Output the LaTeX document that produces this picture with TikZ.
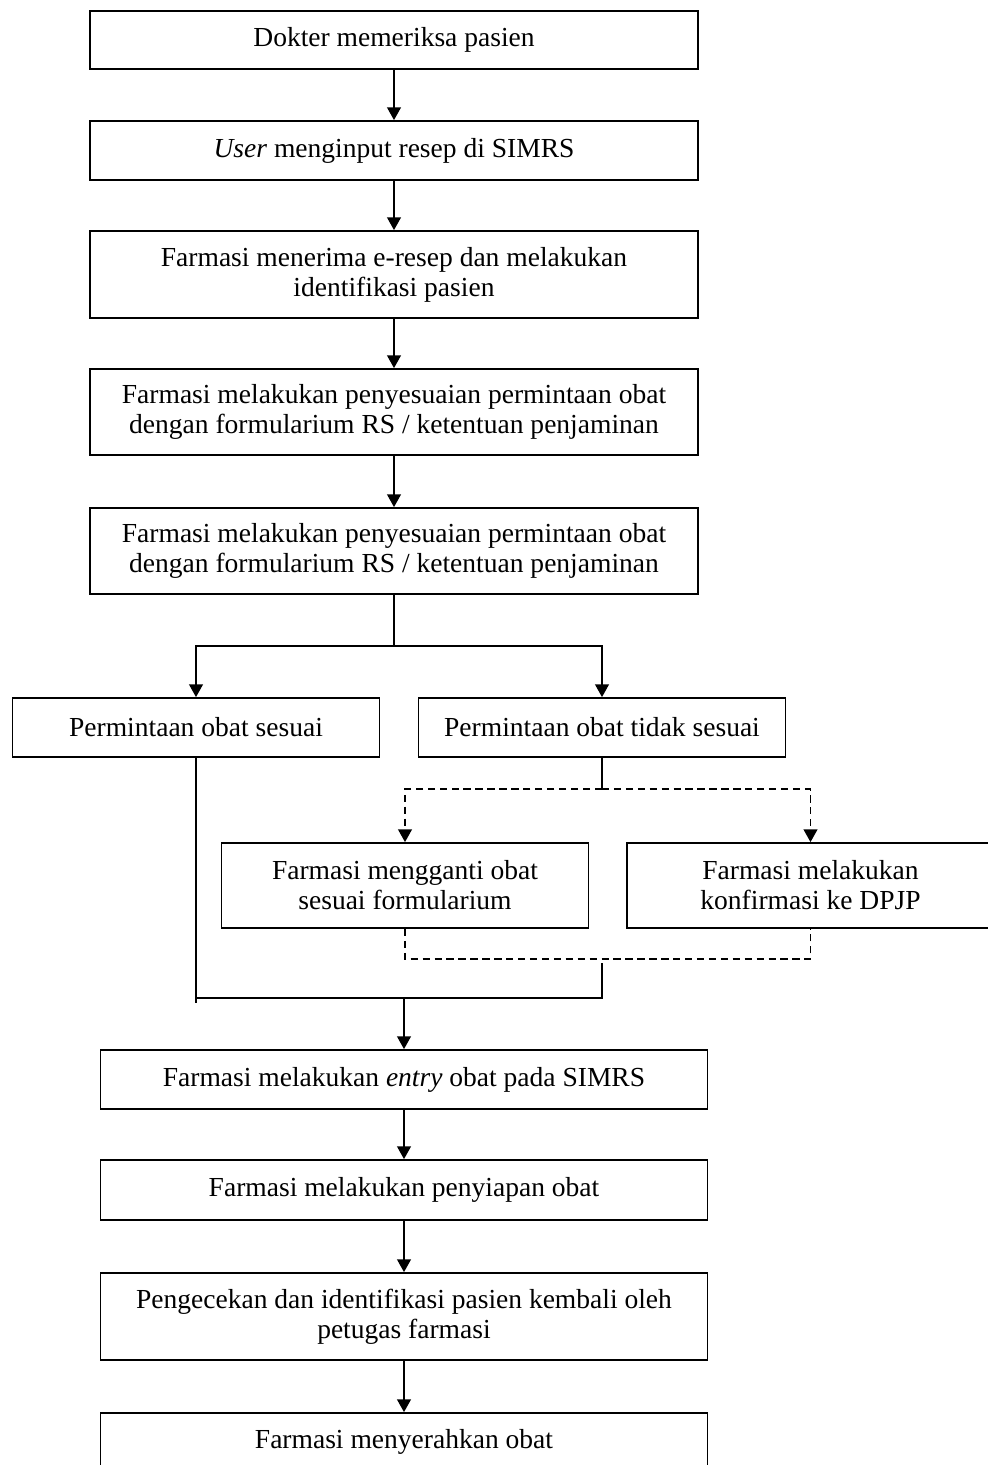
\documentclass[tikz,border=0pt]{standalone}
\usepackage{fontspec}
\setmainfont{Liberation Serif}
\usetikzlibrary{arrows.meta}
\newcommand{\pxu}{0.436pt}
\tikzset{
  proc/.style={draw, line width=0.8pt, align=center, inner sep=0pt,
    font=\fontsize{12}{13.1}\selectfont},
  flow/.style={line width=0.55pt},
  flowarrow/.style={-{Triangle[length=5.5pt,width=6pt]}},
  dashflow/.style={flow, dash pattern=on 3.2pt off 2pt}}
\newcommand{\pbox}[6]{%
  \node[proc, minimum width={#4*\pxu}, minimum height={#5*\pxu}] (#1) at (#2,#3) {#6};}

\begin{document}
\begin{tikzpicture}[x=\pxu, y=-\pxu]
  \useasboundingbox (0,0) rectangle (987,1465);
  % main column
  \pbox{b1}{394}{40}{608}{58}{Dokter memeriksa pasien}
  \pbox{b2}{394}{150.5}{608}{59}{\textit{User} menginput resep di SIMRS}
  \pbox{b3}{394}{274.5}{608}{87}{Farmasi menerima e-resep dan melakukan\\identifikasi pasien}
  \pbox{b4}{394}{412}{608}{86}{Farmasi melakukan penyesuaian permintaan obat\\dengan formularium RS / ketentuan penjaminan}
  \pbox{b5}{394}{551}{608}{86}{Farmasi melakukan penyesuaian permintaan obat\\dengan formularium RS / ketentuan penjaminan}
  % branches
  \pbox{b6}{196}{727.5}{367}{59}{Permintaan obat sesuai}
  \pbox{b7}{602}{727.5}{367}{59}{Permintaan obat tidak sesuai}
  \pbox{b8}{405}{885.5}{367}{85}{Farmasi mengganti obat\\sesuai formularium}
  \pbox{b9}{810.5}{885.5}{367}{85}{Farmasi melakukan\\konfirmasi ke DPJP}
  % lower column
  \pbox{b10}{404}{1079.5}{607}{59}{Farmasi melakukan \textit{entry} obat pada SIMRS}
  \pbox{b11}{404}{1190}{607}{60}{Farmasi melakukan penyiapan obat}
  \pbox{b12}{404}{1316.5}{607}{87}{Pengecekan dan identifikasi pasien kembali oleh\\petugas farmasi}
  \pbox{b13}{404}{1442}{607}{58}{Farmasi menyerahkan obat}

  \coordinate (split) at (394,646);
  \coordinate (alt) at (602,789);
  \coordinate (altjoin) at (602,959);
  \coordinate (mtop) at (602,963);
  \coordinate (mleft) at (196,998);
  \coordinate (mend) at (196,1003);
  \coordinate (merge) at (404,998);

  \foreach \a/\b in {b1/b2,b2/b3,b3/b4,b4/b5,b10/b11,b11/b12,b12/b13}
    \draw[flow,flowarrow] (\a) -- (\b);

  \draw[flow] (b5.south) -- (split);
  \draw[flow,flowarrow] (split) -| (b6.north);
  \draw[flow,flowarrow] (split) -| (b7.north);

  \draw[flow] (b7.south) -- (alt);
  \draw[dashflow,flowarrow] (alt) -| (b8.north);
  \draw[dashflow,flowarrow] (alt) -| (b9.north);
  \draw[dashflow] (b8.south) |- (altjoin) -| (b9.south);

  \draw[flow] (mtop) |- (mleft);
  \draw[flow] (b6.south) -- (mend);
  \draw[flow,flowarrow] (merge) -- (b10);
\end{tikzpicture}
\end{document}
